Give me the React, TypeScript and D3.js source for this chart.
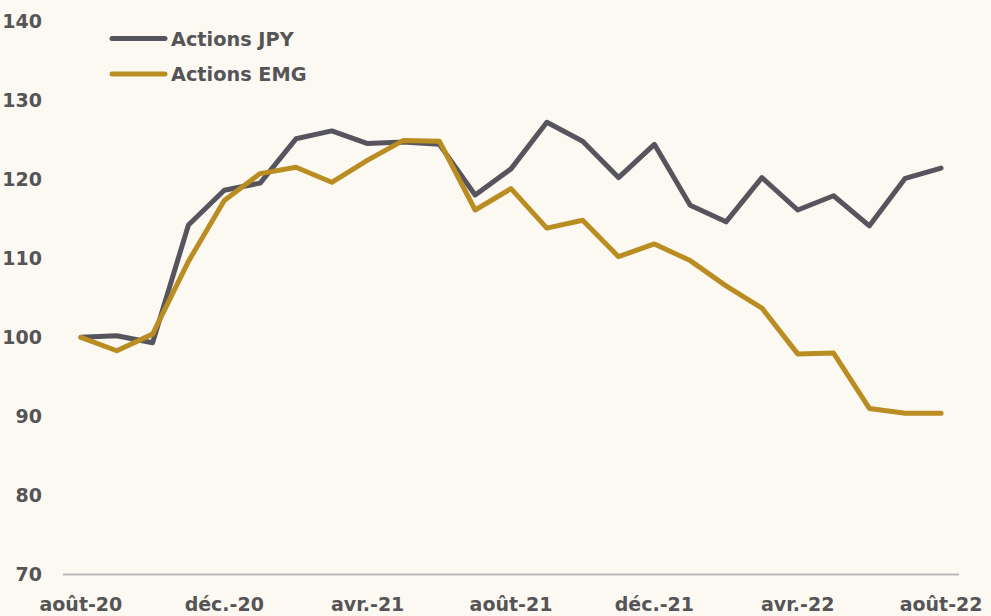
import React from "react";
import * as d3 from "d3";

const months: string[] = [
  "2020-08","2020-09","2020-10","2020-11","2020-12","2021-01","2021-02","2021-03","2021-04",
  "2021-05","2021-06","2021-07","2021-08","2021-09","2021-10","2021-11","2021-12","2022-01",
  "2022-02","2022-03","2022-04","2022-05","2022-06","2022-07","2022-08",
];
const tickLabels: string[] = ["août-20","","","","déc.-20","","","","avr.-21","","","","août-21","","","","déc.-21","","","","avr.-22","","","","août-22"];
const jpy: number[] = [100, 100.2, 99.3, 114.2, 118.6, 119.5, 125.1, 126.1, 124.5, 124.7, 124.4, 118.0, 121.3, 127.2, 124.8, 120.2, 124.4, 116.7, 114.6, 120.2, 116.1, 117.9, 114.1, 120.1, 121.4];
const emg: number[] = [100, 98.3, 100.4, 109.6, 117.3, 120.7, 121.5, 119.6, 122.4, 124.9, 124.8, 116.1, 118.8, 113.8, 114.8, 110.2, 111.8, 109.7, 106.5, 103.7, 97.9, 98.0, 91.0, 90.4, 90.4];
const yTicks: number[] = [70, 80, 90, 100, 110, 120, 130, 140];
const seriesNames: string[] = ["Actions JPY", "Actions EMG"];

const W = 991, H = 616;
const colors = ["#56555d", "#ba8d22"];
const font = "'DejaVu Sans', sans-serif";
const textColor = "#555457";

export default function App() {
  const x = d3.scalePoint<string>().domain(months).range([63, 959]).padding(0.5);
  const y = d3.scaleLinear().domain([70, 140]).range([574.5, 21]);
  const line = d3.line<number>()
    .x((_, i) => x(months[i]) as number)
    .y((d) => y(d));
  const series = [jpy, emg];

  return (
    <svg width={W} height={H} style={{ position: "absolute", left: 0, top: 0 }} fontFamily={font}>
      <rect x={0} y={0} width={W} height={H} fill="#fcf9f2" />
      {yTicks.map((t) => (
        <text key={t} x={42} y={y(t)} dy="0.36em" textAnchor="end" fontSize={19} fontWeight="bold" fill={textColor}>
          {t}
        </text>
      ))}
      <line x1={63} x2={959} y1={y(70)} y2={y(70)} stroke="#b9b9b9" strokeWidth={2} />
      {months.map((m, i) =>
        tickLabels[i] ? (
          <text key={m} x={x(m) as number} y={611} textAnchor="middle" fontSize={19} fontWeight="bold" fill={textColor}>
            {tickLabels[i]}
          </text>
        ) : null
      )}
      {series.map((s, k) => (
        <path key={k} d={line(s) as string} fill="none" stroke={colors[k]} strokeWidth={5} strokeLinejoin="round" strokeLinecap="round" />
      ))}
      {seriesNames.map((n, k) => (
        <g key={n}>
          <line x1={112} x2={165} y1={38.5 + k * 35.5} y2={38.5 + k * 35.5} stroke={colors[k]} strokeWidth={5} strokeLinecap="round" />
          <text x={171} y={45.5 + k * 35.5} fontSize={19.3} fontWeight="bold" fill={textColor}>
            {n}
          </text>
        </g>
      ))}
    </svg>
  );
}
